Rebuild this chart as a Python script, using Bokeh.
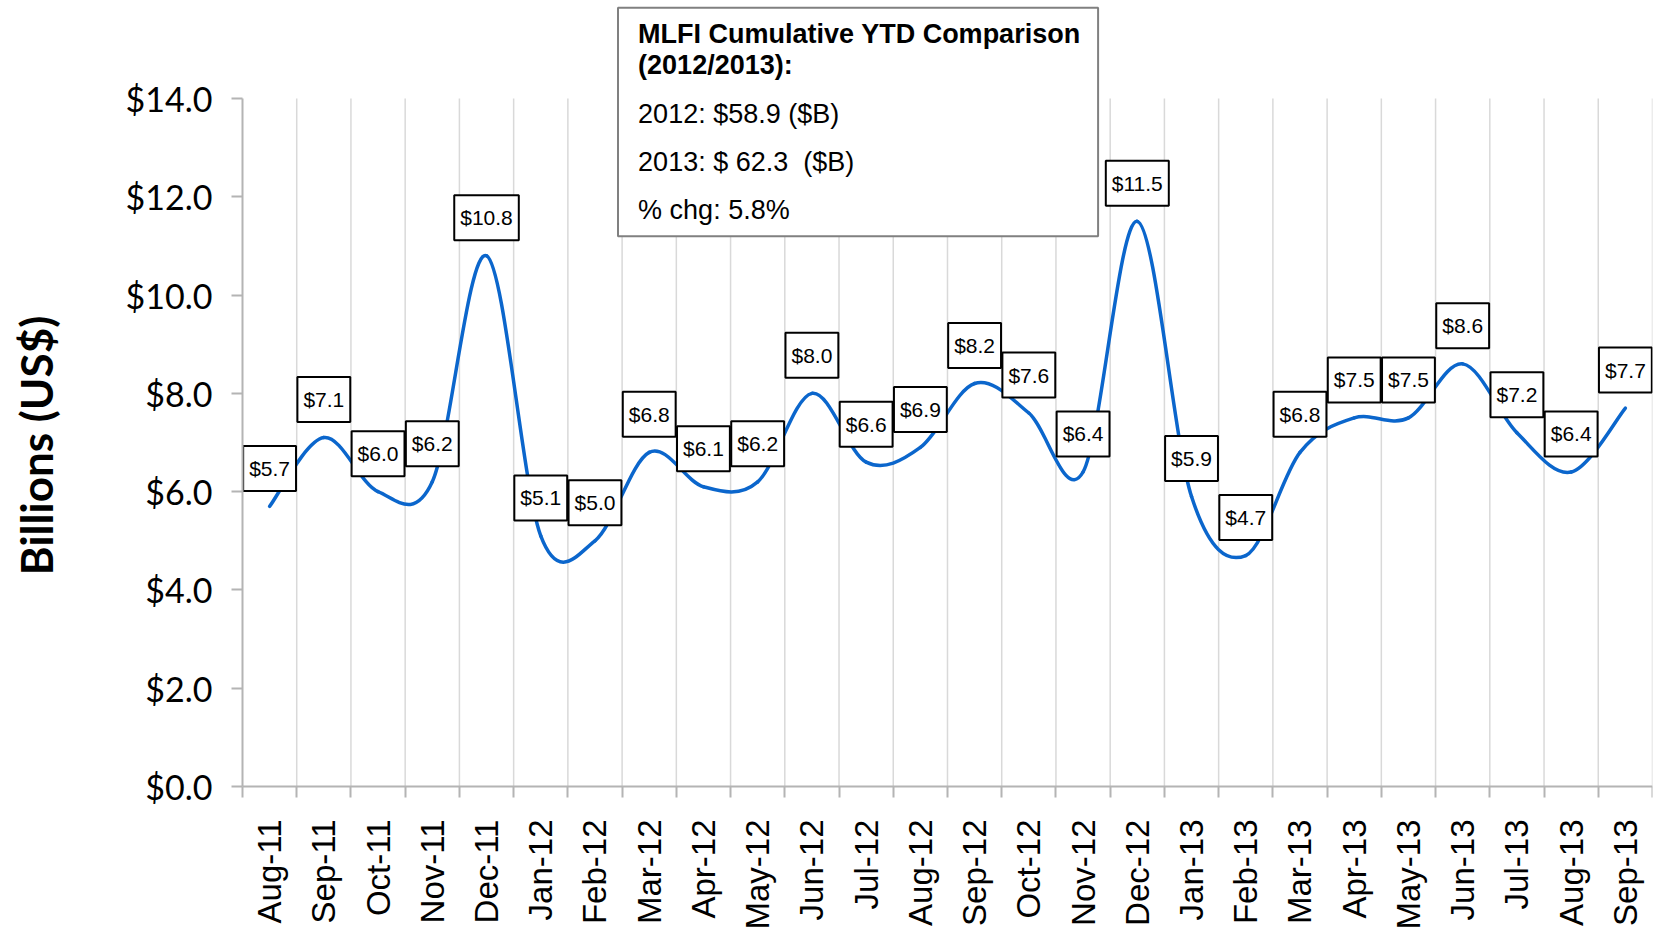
from bokeh.plotting import figure
from bokeh.models import Range1d, FixedTicker, Label, ColumnDataSource
from bokeh.core.properties import value
from bokeh.embed import file_html
from bokeh.resources import INLINE
import math

months = ["Aug-11", "Sep-11", "Oct-11", "Nov-11", "Dec-11", "Jan-12", "Feb-12", "Mar-12",
          "Apr-12", "May-12", "Jun-12", "Jul-12", "Aug-12", "Sep-12", "Oct-12", "Nov-12",
          "Dec-12", "Jan-13", "Feb-13", "Mar-13", "Apr-13", "May-13", "Jun-13", "Jul-13",
          "Aug-13", "Sep-13"]
values = [5.7, 7.1, 6.0, 6.2, 10.8, 5.1, 5.0, 6.8, 6.1, 6.2, 8.0, 6.6, 6.9, 8.2, 7.6, 6.4,
          11.5, 5.9, 4.7, 6.8, 7.5, 7.5, 8.6, 7.2, 6.4, 7.7]
ytick_values = [0, 2, 4, 6, 8, 10, 12, 14]
ytick_labels = ["$0.0", "$2.0", "$4.0", "$6.0", "$8.0", "$10.0", "$12.0", "$14.0"]
y_title = "Billions (US$)"
box_title = ["MLFI Cumulative YTD Comparison", "(2012/2013):"]
box_lines = ["2012: $58.9 ($B)", "2013: $ 62.3 \u00a0($B)", "% chg: 5.8%"]

n = len(values)
xs = list(range(n))
labels = ["$%.1f" % v for v in values]
bounds = [i - 0.5 for i in range(n + 1)]

# frame spans the whole figure; both axes sit at fixed locations inside it
p = figure(width=1658, height=933, output_backend="svg", toolbar_location=None,
           x_range=Range1d(-4.962, n - 0.5), y_range=Range1d(-2.991, 15.994),
           min_border_left=0, min_border_right=6, min_border_top=0, min_border_bottom=0)
p.outline_line_color = None
p.xgrid.visible = False
p.ygrid.visible = False
p.background_fill_color = "white"

# y axis
ya = p.yaxis[0]
ya.fixed_location = bounds[0]
ya.ticker = FixedTicker(ticks=ytick_values)
ya.major_label_overrides = {t: l for t, l in zip(ytick_values, ytick_labels)}
ya.bounds = (ytick_values[0], ytick_values[-1])
ya.axis_line_color = "#b4b4b4"
ya.axis_line_width = 2
ya.major_tick_line_color = "#b4b4b4"
ya.major_tick_line_width = 2
ya.major_tick_out = 11
ya.major_tick_in = 0
ya.minor_tick_line_color = None
ya.major_label_text_font = "Lato"
ya.major_label_text_font_size = "34px"
ya.major_label_text_color = "black"
ya.major_label_standoff = 19

# x axis: labels at category centres, tick marks (minor) at category boundaries
xa = p.xaxis[0]
xa.fixed_location = ytick_values[0]
xa.bounds = (bounds[0], bounds[-1])
xa.ticker = FixedTicker(ticks=xs, minor_ticks=bounds)
xa.major_label_overrides = {i: m for i, m in zip(xs, months)}
xa.axis_line_color = "#b4b4b4"
xa.axis_line_width = 2
xa.major_tick_line_color = None
xa.major_tick_out = 0
xa.major_tick_in = 0
xa.minor_tick_line_color = "#b4b4b4"
xa.minor_tick_line_width = 2
xa.minor_tick_out = 11
xa.minor_tick_in = 0
xa.major_label_orientation = math.pi / 2
xa.major_label_text_font = "Liberation Sans"
xa.major_label_text_font_size = "33px"
xa.major_label_text_color = "black"
xa.major_label_standoff = 22

# vertical gridlines
gb = bounds[1:]
p.segment(x0=gb, y0=[ytick_values[0]] * len(gb), x1=gb,
          y1=[ytick_values[-1]] * len(gb), line_color="#d9d9d9", line_width=1.5)

# comparison box
p.quad(left=[6.424], right=[15.277], bottom=[11.196], top=[15.844],
       fill_color="white", line_color="#808080", line_width=2)

# smoothed line (bezier segments from the data points)
x0, y0, x1, y1, cx0, cy0, cx1, cy1 = [], [], [], [], [], [], [], []
for i in range(n - 1):
    a = i - 1 if i > 0 else i
    b = i + 2 if i + 2 < n else i + 1
    x0.append(xs[i]); y0.append(values[i])
    x1.append(xs[i + 1]); y1.append(values[i + 1])
    cx0.append(xs[i] + (xs[i + 1] - xs[a]) / 6.0)
    cy0.append(values[i] + (values[i + 1] - values[a]) / 6.0)
    cx1.append(xs[i + 1] - (xs[b] - xs[i]) / 6.0)
    cy1.append(values[i + 1] - (values[b] - values[i]) / 6.0)
p.bezier(x0=x0, y0=y0, x1=x1, y1=y1, cx0=cx0, cy0=cy0, cx1=cx1, cy1=cy1,
         line_color="#0b66cc", line_width=3.5, line_cap="round")

# data labels
src = ColumnDataSource(dict(x=xs, y=values, t=labels))
p.text(x="x", y="y", text="t", source=src, y_offset=-38,
       text_align="center", text_baseline="middle",
       text_font=value("Liberation Sans"), text_font_size="21px", text_color="black",
       background_fill_color="white", border_line_color="black", border_line_width=2,
       padding=dict(left=6, right=6, top=11, bottom=11))

# y axis title, centred on the 0-14 value span
p.add_layout(Label(x=-4.31, y=6.94, text=y_title, angle=math.pi / 2,
                   text_font="Lato", text_font_style="bold", text_font_size="44px",
                   text_color="black", text_align="center", text_baseline="middle"))

# box texts
box_y = [15.307, 14.682, 13.693, 12.702, 11.733]
for t, yy in zip(box_title, box_y[:2]):
    p.add_layout(Label(x=6.795, y=yy, text=t, text_font="Liberation Sans",
                       text_font_style="bold", text_font_size="27px",
                       text_color="black", text_baseline="alphabetic"))
for t, yy in zip(box_lines, box_y[2:]):
    p.add_layout(Label(x=6.795, y=yy, text=t, text_font="Liberation Sans",
                       text_font_size="27px", text_color="black",
                       text_baseline="alphabetic"))

open("out.html", "w").write(file_html(p, INLINE))
